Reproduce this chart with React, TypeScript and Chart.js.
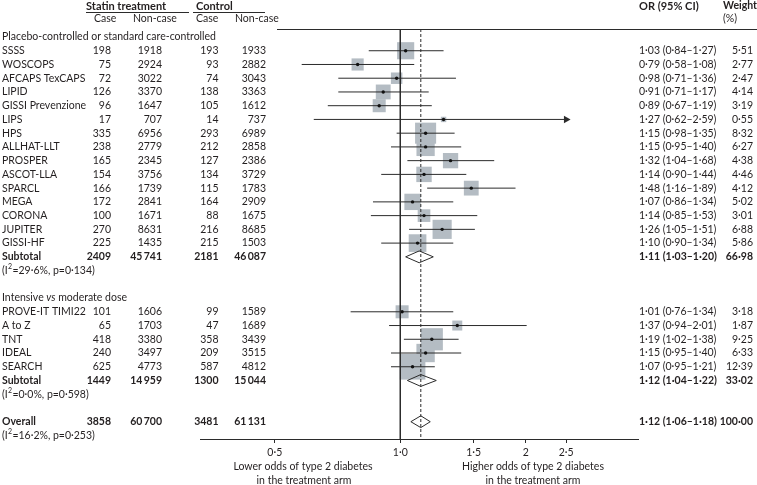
import { useEffect, useRef } from 'react';
import { Chart, registerables } from 'chart.js';

Chart.register(...registerables);

// ---------------- data ----------------
const groupTitles = ['Placebo-controlled or standard care-controlled', 'Intensive vs moderate dose'];
const studyNames = [
  'SSSS', 'WOSCOPS', 'AFCAPS TexCAPS', 'LIPID', 'GISSI Prevenzione', 'LIPS', 'HPS', 'ALLHAT-LLT',
  'PROSPER', 'ASCOT-LLA', 'SPARCL', 'MEGA', 'CORONA', 'JUPITER', 'GISSI-HF',
  'PROVE-IT TIMI22', 'A to Z', 'TNT', 'IDEAL', 'SEARCH',
];
const studyGroup = [0, 0, 0, 0, 0, 0, 0, 0, 0, 0, 0, 0, 0, 0, 0, 1, 1, 1, 1, 1];
const statinCases = [198, 75, 72, 126, 96, 17, 335, 238, 165, 154, 166, 172, 100, 270, 225, 101, 65, 418, 240, 625];
const statinNonCases = [1918, 2924, 3022, 3370, 1647, 707, 6956, 2779, 2345, 3756, 1739, 2841, 1671, 8631, 1435, 1606, 1703, 3380, 3497, 4773];
const controlCases = [193, 93, 74, 138, 105, 14, 293, 212, 127, 134, 115, 164, 88, 216, 215, 99, 47, 358, 209, 587];
const controlNonCases = [1933, 2882, 3043, 3363, 1612, 737, 6989, 2858, 2386, 3729, 1783, 2909, 1675, 8685, 1503, 1589, 1689, 3439, 3515, 4812];
const oddsRatios = [1.03, 0.79, 0.98, 0.91, 0.89, 1.27, 1.15, 1.15, 1.32, 1.14, 1.48, 1.07, 1.14, 1.26, 1.10, 1.01, 1.37, 1.19, 1.15, 1.07];
const ciLower = [0.84, 0.58, 0.71, 0.71, 0.67, 0.62, 0.98, 0.95, 1.04, 0.90, 1.16, 0.86, 0.85, 1.05, 0.90, 0.76, 0.94, 1.02, 0.95, 0.95];
const ciUpper = [1.27, 1.08, 1.36, 1.17, 1.19, 2.59, 1.35, 1.40, 1.68, 1.44, 1.89, 1.34, 1.53, 1.51, 1.34, 1.34, 2.01, 1.38, 1.40, 1.21];
const weights = [5.51, 2.77, 2.47, 4.14, 3.19, 0.55, 8.32, 6.27, 4.38, 4.46, 4.12, 5.02, 3.01, 6.88, 5.86, 3.18, 1.87, 9.25, 6.33, 12.39];

const subtotalStatinCases = [2409, 1449];
const subtotalStatinNonCases = [45741, 14959];
const subtotalControlCases = [2181, 1300];
const subtotalControlNonCases = [46087, 15044];
const subtotalOR = [1.11, 1.12];
const subtotalLower = [1.03, 1.04];
const subtotalUpper = [1.20, 1.22];
const subtotalWeights = [66.98, 33.02];
const subtotalI2 = [29.6, 0.0];
const subtotalP = [0.134, 0.598];

const overallCounts = [3858, 60700, 3481, 61131];
const overallOR = [1.12, 1.06, 1.18]; // estimate, lower, upper
const overallWeight = 100.0;
const overallI2 = 16.2;
const overallP = 0.253;

const tickValues = [0.5, 1.0, 1.5, 2, 2.5];
const tickLabels = ['0\u00B75', '1\u00B70', '1\u00B75', '2', '2\u00B75'];
const lowerLabel = ['Lower odds of type 2 diabetes', 'in the treatment arm'];
const higherLabel = ['Higher odds of type 2 diabetes', 'in the treatment arm'];

// ---------------- styles ----------------
const FONT = 'Lato, "Open Sans", "Liberation Sans", sans-serif';
const FS = 10.5;
const FS_HEAD = 11;
const TEXT = '#231f20';
const LINE = '#2b2b2b';
const SQUARE = '#b4bcc3';
const X_MIN = 0.3307;
const X_MAX = 3.718;
const Y_MIN = -0.582;
const Y_MAX = 29.258;
const DIAMOND_H = 0.43;

// ---------------- row layout ----------------
type Row = { kind: 'title' | 'study' | 'subtotal' | 'het' | 'blank' | 'overall' | 'ohet'; idx: number };
const rows: Row[] = [];
const studyRow: number[] = [];
const subtotalRow: number[] = [];
groupTitles.forEach((_, g) => {
  rows.push({ kind: 'title', idx: g });
  studyNames.forEach((__, i) => {
    if (studyGroup[i] === g) {
      studyRow[i] = rows.length;
      rows.push({ kind: 'study', idx: i });
    }
  });
  subtotalRow[g] = rows.length;
  rows.push({ kind: 'subtotal', idx: g });
  rows.push({ kind: 'het', idx: g });
  rows.push({ kind: 'blank', idx: g });
});
const overallRow = rows.length;
rows.push({ kind: 'overall', idx: 0 });
rows.push({ kind: 'ohet', idx: 0 });

// ---------------- helpers ----------------
const fmtInt = (n: number) =>
  n >= 10000 ? `${Math.floor(n / 1000)}\u2009${String(n % 1000).padStart(3, '0')}` : String(n);
const fmtDec = (v: number, d = 2) => v.toFixed(d).replace('.', '\u00B7');
const fmtCI = (o: number, lo: number, hi: number) => `${fmtDec(o)} (${fmtDec(lo)}\u2013${fmtDec(hi)})`;

function setFont(ctx: CanvasRenderingContext2D, weight = 'normal', style = 'normal', size = FS) {
  ctx.font = `${style} ${weight} ${size}px ${FONT}`;
}

const COL = { name: 2, sCase: 111, sNon: 162, cCase: 218.5, cNon: 266, or: 639, weight: 753 };

function drawText(
  ctx: CanvasRenderingContext2D, s: string, x: number, y: number, align: CanvasTextAlign,
  weight = 'normal', size = FS,
) {
  setFont(ctx, weight, 'normal', size);
  ctx.textAlign = align;
  ctx.fillText(s, x, y);
}

function drawHet(ctx: CanvasRenderingContext2D, x: number, y: number, i2: number, p: number) {
  ctx.textAlign = 'left';
  setFont(ctx);
  ctx.fillText('(I', x, y);
  x += ctx.measureText('(I').width;
  setFont(ctx, 'normal', 'normal', 7);
  ctx.fillText('2', x + 0.3, y - 3.5);
  x += ctx.measureText('2').width + 0.6;
  setFont(ctx);
  ctx.fillText(`=${fmtDec(i2, 1)}%, p=${fmtDec(p, 3)})`, x, y);
}

function drawTitle(ctx: CanvasRenderingContext2D, title: string, x: number, y: number) {
  ctx.textAlign = 'left';
  const parts = title.split(/( vs )/);
  parts.forEach((part) => {
    if (part === ' vs ') {
      setFont(ctx);
      ctx.fillText(' ', x, y);
      x += ctx.measureText(' ').width;
      setFont(ctx, 'normal', 'italic');
      ctx.fillText('vs', x, y);
      x += ctx.measureText('vs').width;
      setFont(ctx);
      ctx.fillText(' ', x, y);
      x += ctx.measureText(' ').width;
    } else {
      setFont(ctx);
      ctx.fillText(part, x, y);
      x += ctx.measureText(part).width;
    }
  });
}

function hline(ctx: CanvasRenderingContext2D, x1: number, x2: number, y: number) {
  ctx.beginPath();
  ctx.moveTo(x1, y);
  ctx.lineTo(x2, y);
  ctx.stroke();
}

const tablePlugin = {
  id: 'forestTable',
  afterDraw(chart: any) {
    const ctx: CanvasRenderingContext2D = chart.ctx;
    const ys = chart.scales.y;
    const area = chart.chartArea;
    ctx.save();
    ctx.fillStyle = TEXT;
    ctx.strokeStyle = LINE;
    ctx.lineWidth = 1;
    ctx.textBaseline = 'middle';

    // headers
    drawText(ctx, 'Statin treatment', 86, 6, 'left', 'bold', FS_HEAD);
    drawText(ctx, 'Control', 196, 6, 'left', 'bold', FS_HEAD);
    hline(ctx, 86, 189, 12.5);
    hline(ctx, 193, 265, 12.5);
    drawText(ctx, 'Case', 94, 19, 'left');
    drawText(ctx, 'Non-case', 133, 19, 'left');
    drawText(ctx, 'Case', 196, 19, 'left');
    drawText(ctx, 'Non-case', 235, 19, 'left');
    drawText(ctx, 'OR (95% CI)', 639, 6, 'left', 'bold', FS_HEAD);
    drawText(ctx, 'Weight', 723, 6, 'left', 'bold', FS);
    drawText(ctx, '(%)', 723, 19, 'left');
    hline(ctx, 277, chart.width, area.top + 0.5);

    rows.forEach((row, r) => {
      const y = ys.getPixelForValue(r);
      const i = row.idx;
      if (row.kind === 'title') {
        drawTitle(ctx, groupTitles[i], COL.name, y);
      } else if (row.kind === 'study') {
        drawText(ctx, studyNames[i], COL.name, y, 'left');
        drawText(ctx, fmtInt(statinCases[i]), COL.sCase, y, 'right');
        drawText(ctx, fmtInt(statinNonCases[i]), COL.sNon, y, 'right');
        drawText(ctx, fmtInt(controlCases[i]), COL.cCase, y, 'right');
        drawText(ctx, fmtInt(controlNonCases[i]), COL.cNon, y, 'right');
        drawText(ctx, fmtCI(oddsRatios[i], ciLower[i], ciUpper[i]), COL.or, y, 'left');
        drawText(ctx, fmtDec(weights[i]), COL.weight, y, 'right');
      } else if (row.kind === 'subtotal') {
        drawText(ctx, 'Subtotal', COL.name, y, 'left', 'bold');
        drawText(ctx, fmtInt(subtotalStatinCases[i]), COL.sCase, y, 'right', 'bold');
        drawText(ctx, fmtInt(subtotalStatinNonCases[i]), COL.sNon, y, 'right', 'bold');
        drawText(ctx, fmtInt(subtotalControlCases[i]), COL.cCase, y, 'right', 'bold');
        drawText(ctx, fmtInt(subtotalControlNonCases[i]), COL.cNon, y, 'right', 'bold');
        drawText(ctx, fmtCI(subtotalOR[i], subtotalLower[i], subtotalUpper[i]), COL.or, y, 'left', 'bold');
        drawText(ctx, fmtDec(subtotalWeights[i]), COL.weight, y, 'right', 'bold');
      } else if (row.kind === 'het') {
        drawHet(ctx, COL.name, y, subtotalI2[i], subtotalP[i]);
      } else if (row.kind === 'overall') {
        drawText(ctx, 'Overall', COL.name, y, 'left', 'bold');
        drawText(ctx, fmtInt(overallCounts[0]), COL.sCase, y, 'right', 'bold');
        drawText(ctx, fmtInt(overallCounts[1]), COL.sNon, y, 'right', 'bold');
        drawText(ctx, fmtInt(overallCounts[2]), COL.cCase, y, 'right', 'bold');
        drawText(ctx, fmtInt(overallCounts[3]), COL.cNon, y, 'right', 'bold');
        drawText(ctx, fmtCI(overallOR[0], overallOR[1], overallOR[2]), COL.or, y, 'left', 'bold');
        drawText(ctx, fmtDec(overallWeight), COL.weight, y, 'right', 'bold');
      } else if (row.kind === 'ohet') {
        drawHet(ctx, COL.name, y, overallI2, overallP);
      }
    });

    // axis annotations
    drawText(ctx, lowerLabel[0], 303, 467, 'center');
    drawText(ctx, lowerLabel[1], 304, 481, 'center');
    drawText(ctx, higherLabel[0], 533, 467, 'center');
    drawText(ctx, higherLabel[1], 533, 481, 'center');
    ctx.restore();
  },
};

function buildConfig(): any {
  const arrowLimit = tickValues[tickValues.length - 1];
  const datasets: any[] = [];

  datasets.push({
    label: 'weights',
    data: studyNames.map((_, i) => ({ x: oddsRatios[i], y: studyRow[i] })),
    pointStyle: 'rect',
    pointRadius: (c: any) => 5.16 * Math.sqrt(weights[c.dataIndex] ?? 0),
    backgroundColor: SQUARE,
    borderWidth: 0,
    order: 10,
  });

  studyNames.forEach((_, i) => {
    datasets.push({
      label: `ci-${i}`,
      showLine: true,
      data: [
        { x: ciLower[i], y: studyRow[i] },
        { x: Math.min(ciUpper[i], arrowLimit), y: studyRow[i] },
      ],
      borderColor: LINE,
      borderWidth: 1,
      pointRadius: 0,
      order: 5,
    });
  });

  datasets.push({
    label: 'arrows',
    data: studyNames
      .map((_, i) => ({ x: arrowLimit, y: studyRow[i], over: ciUpper[i] > arrowLimit }))
      .filter((d) => d.over)
      .map(({ x, y }) => ({ x, y })),
    pointStyle: 'triangle',
    rotation: 90,
    pointRadius: 4.4,
    backgroundColor: LINE,
    borderWidth: 0,
    order: 4,
  });

  datasets.push({
    label: 'estimates',
    data: studyNames.map((_, i) => ({ x: oddsRatios[i], y: studyRow[i] })),
    pointStyle: 'circle',
    pointRadius: 1.7,
    backgroundColor: '#111',
    borderWidth: 0,
    order: 3,
  });

  const diamond = (o: number, lo: number, hi: number, y: number) => [
    { x: lo, y },
    { x: o, y: y - DIAMOND_H },
    { x: hi, y },
    { x: o, y: y + DIAMOND_H },
    { x: lo, y },
  ];
  subtotalOR.forEach((o, g) => {
    datasets.push({
      label: `subtotal-${g}`,
      showLine: true,
      data: diamond(o, subtotalLower[g], subtotalUpper[g], subtotalRow[g]),
      borderColor: LINE,
      borderWidth: 1,
      pointRadius: 0,
      fill: false,
      order: 2,
    });
  });
  datasets.push({
    label: 'overall',
    showLine: true,
    data: diamond(overallOR[0], overallOR[1], overallOR[2], overallRow),
    borderColor: LINE,
    borderWidth: 1,
    pointRadius: 0,
    fill: false,
    order: 2,
  });

  datasets.push({
    label: 'null',
    showLine: true,
    data: [
      { x: 1, y: Y_MIN },
      { x: 1, y: Y_MAX },
    ],
    borderColor: LINE,
    borderWidth: 1,
    pointRadius: 0,
    order: 1,
  });
  datasets.push({
    label: 'pooled',
    showLine: true,
    data: [
      { x: overallOR[0], y: Y_MIN },
      { x: overallOR[0], y: Y_MAX },
    ],
    borderColor: LINE,
    borderWidth: 1,
    borderDash: [3, 2],
    pointRadius: 0,
    order: 1,
  });

  return {
    type: 'scatter',
    data: { datasets },
    options: {
      animation: false,
      responsive: true,
      maintainAspectRatio: false,
      events: [],
      layout: { padding: { left: 200, right: 119, top: 29, bottom: 26 } },
      plugins: { legend: { display: false }, tooltip: { enabled: false } },
      scales: {
        x: {
          type: 'logarithmic',
          min: X_MIN,
          max: X_MAX,
          bounds: 'data',
          position: 'bottom',
          grid: { drawOnChartArea: false, drawTicks: true, tickLength: 4, tickColor: LINE, tickWidth: 1 },
          border: { display: true, color: LINE, width: 1 },
          ticks: {
            autoSkip: false,
            maxRotation: 0,
            padding: 3,
            color: TEXT,
            font: { family: FONT, size: FS },
            callback: (_v: any, idx: number) => tickLabels[idx],
          },
          afterBuildTicks: (axis: any) => {
            axis.ticks = tickValues.map((v) => ({ value: v }));
          },
          afterFit: (axis: any) => {
            axis.height = 20;
          },
        },
        y: {
          type: 'linear',
          min: Y_MIN,
          max: Y_MAX,
          reverse: true,
          display: false,
        },
      },
    },
    plugins: [tablePlugin],
  };
}

export default function App() {
  const ref = useRef<HTMLCanvasElement>(null);
  useEffect(() => {
    if (!ref.current) return;
    const chart = new Chart(ref.current, buildConfig());
    return () => chart.destroy();
  }, []);
  return (
    <div style={{ position: 'absolute', left: 0, top: 0, width: 757, height: 485, background: '#fff' }}>
      <canvas ref={ref} />
    </div>
  );
}
